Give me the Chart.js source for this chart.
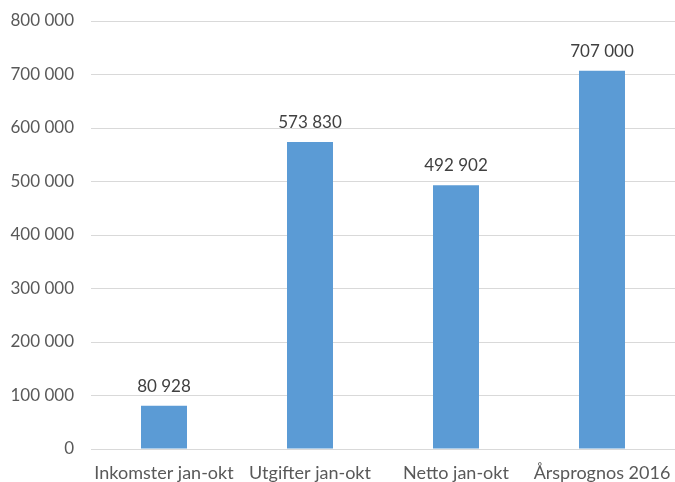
<!DOCTYPE html>
<html>
<head>
<meta charset="utf-8">
<script src="https://cdn.jsdelivr.net/npm/chart.js@4"></script>
<style>
  html, body { margin: 0; padding: 0; background: #fff; }
  #wrap { width: 675px; height: 482px; }
</style>
</head>
<body>
<div id="wrap"><canvas id="chart"></canvas></div>
<script>
const categories = ["Inkomster jan-okt", "Utgifter jan-okt", "Netto jan-okt", "Årsprognos 2016"];
const values = [80928, 573830, 492902, 707000];
const yTicks = [0, 100000, 200000, 300000, 400000, 500000, 600000, 700000, 800000];

const fmt = v => String(v).replace(/\B(?=(\d{3})+(?!\d))/g, ' ');
const FONT = 'Lato';

// etiketter ovanför staplarna
const barLabels = {
    id: 'barLabels',
    afterDatasetsDraw(chart) {
        const ctx = chart.ctx;
        const meta = chart.getDatasetMeta(0);
        ctx.save();
        ctx.font = '17px ' + FONT;
        ctx.fillStyle = '#404040';
        ctx.textAlign = 'center';
        ctx.textBaseline = 'bottom';
        meta.data.forEach((bar, i) => {
            ctx.fillText(fmt(values[i]), bar.x, bar.y - 11);
        });
        ctx.restore();
    }
};

new Chart(document.getElementById('chart'), {
    type: 'bar',
    data: {
        labels: categories,
        datasets: [{
            data: values,
            backgroundColor: '#5B9BD5',
            categoryPercentage: 1,
            barPercentage: 0.315
        }]
    },
    options: {
        responsive: true,
        maintainAspectRatio: false,
        animation: false,
        layout: { padding: { top: 21, right: 0, bottom: 0, left: 0 } },
        plugins: {
            legend: { display: false },
            tooltip: { enabled: false }
        },
        scales: {
            x: {
                afterFit: scale => {
                    scale.height = 33;
                    scale.paddingLeft = 0;
                    scale.paddingRight = 0;
                },
                grid: { display: false, drawTicks: false },
                border: { color: '#d9d9d9' },
                ticks: {
                    color: '#595959',
                    font: { family: FONT, size: 18 },
                    padding: 13,
                    maxRotation: 0,
                    autoSkip: false
                }
            },
            y: {
                min: 0,
                max: 800000,
                afterBuildTicks: scale => { scale.ticks = yTicks.map(v => ({ value: v })); },
                afterFit: scale => {
                    scale.width = 91;
                    scale.paddingTop = 0;
                    scale.paddingBottom = 0;
                },
                grid: { color: '#d9d9d9', drawTicks: false },
                border: { display: false },
                ticks: {
                    color: '#595959',
                    font: { family: FONT, size: 17 },
                    padding: 17,
                    callback: v => fmt(v)
                }
            }
        }
    },
    plugins: [barLabels]
});
</script>
</body>
</html>
